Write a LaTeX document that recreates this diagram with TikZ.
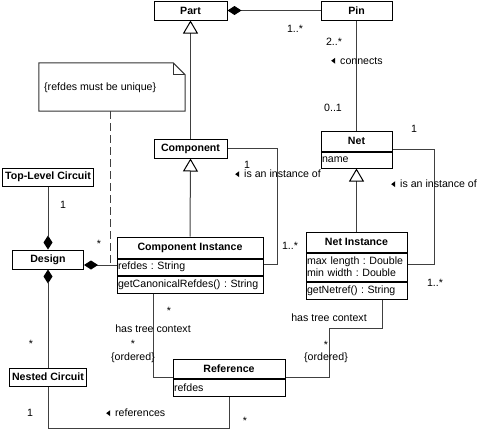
\documentclass[tikz,border=0pt]{standalone}
\usepackage{fontspec}
\setmainfont{Liberation Sans}
\usetikzlibrary{arrows.meta}
\newcommand\ltri{\tikz[baseline=-3.6pt]\fill[black] (0,0) -- (4pt,3pt) -- (4pt,-3pt) -- cycle;}
\tikzset{compo/.tip={Diamond[length=14pt, width=9pt, black]}}
\frenchspacing
\begin{document}
\frenchspacing
\begin{tikzpicture}[x=1pt,y=-1pt,
  every node/.style={font=\fontsize{10.6}{12}\selectfont, inner sep=0pt},
  hdr/.style={draw, line width=1pt, font=\fontsize{10.6}{12}\selectfont\bfseries},
  cmp/.style={draw, line width=1pt, anchor=north, align=left},
  conn/.style={line width=1pt, draw=black!75},
  gen/.style={conn, -{Triangle[open, length=13pt, width=15pt, line width=1pt, black]}},
  lbl/.style={font=\fontsize{10.6}{12}\selectfont}
]
\useasboundingbox (0,0) rectangle (480,431);

% classes
\node[hdr, minimum width=73pt, minimum height=19pt] (part) at (190.5,10.5) {Part};
\node[hdr, minimum width=71pt, minimum height=19pt] (pin) at (356.5,10.5) {Pin};
\node[hdr, minimum width=71pt, minimum height=20pt] (net) at (356.5,141) {Net};
\node[cmp, minimum height=16pt, text width=69pt, inner xsep=1pt] (net-a) at (net.south) {name};
\node[hdr, minimum width=73pt, minimum height=19pt] (comp) at (190.5,148.5) {Component};
\node[hdr, minimum width=91pt, minimum height=18pt] (tlc) at (48,177) {Top-Level Circuit};
\node[hdr, minimum width=71pt, minimum height=19pt] (design) at (48,259.5) {Design};
\node[hdr, minimum width=77pt, minimum height=18pt] (nested) at (48,377) {Nested Circuit};

\node[hdr, minimum width=146pt, minimum height=21pt] (ci) at (190,247.5) {Component Instance};
\node[cmp, minimum height=16pt, text width=144pt, inner xsep=1pt] (ci-a) at (ci.south) {refdes : String};
\node[cmp, minimum height=17pt, text width=144pt, inner xsep=1pt] (ci-o) at (ci-a.south) {getCanonicalRefdes() : String};

\node[hdr, minimum width=101pt, minimum height=20pt] (ni) at (356.5,242) {Net Instance};
\node[cmp, minimum height=28pt, text width=99pt, inner xsep=1pt] (ni-a) at (ni.south) {max length : Double\\min width : Double};
\node[cmp, minimum height=17pt, text width=99pt, inner xsep=1pt] (ni-o) at (ni-a.south) {getNetref() : String};

\node[hdr, minimum width=112pt, minimum height=19pt] (ref) at (229,368.5) {Reference};
\node[cmp, minimum height=17pt, text width=110pt, inner xsep=1pt] (ref-a) at (ref.south) {refdes};

% note
\node[minimum width=146pt, minimum height=48pt] (note) at (112,87) {};
\draw[line width=1pt, black!80] (note.north west) -- ([xshift=-12pt]note.north east) -- ([yshift=-12pt]note.north east) -- (note.south east) -- (note.south west) -- cycle;
\draw[line width=1pt, black!80] ([xshift=-12pt]note.north east) -- ([xshift=-12pt,yshift=-12pt]note.north east) -- ([yshift=-12pt]note.north east);
\node[anchor=west] (notetxt) at (44,88) {\{refdes must be unique\}};

% coordinates
\coordinate (d1) at ([yshift=-5.5pt]design.east);
\coordinate (c1) at (277,264);
\coordinate (c2) at (434,264);
\coordinate (t1) at (153,377);
\coordinate (t2) at (329,328);
\coordinate (t3) at (382,328);
\coordinate (r1) at (48,428);

% connectors
\draw[conn, {compo}-] (part.east) -- (pin.west);
\draw[conn] (pin.south) -- (net.north);
\draw[gen] (comp.north) -- (part.south);
\draw[gen] (ci.north) -- (comp.south);
\draw[gen] (ni.north) -- (net-a.south);
\draw[conn] (comp.east) -| (c1) -- (c1 -| ci.east);
\draw[conn] ([yshift=-8pt]net.east) -| (c2) -- (c2 -| ni.east);
\draw[conn, -{compo}] (tlc.south) -- (design.north);
\draw[conn, {compo}-] (design.south) -- (nested.north);
\draw[conn, {compo}-] (d1) -- (d1 -| ci-a.west);
\draw[conn, dash pattern=on 8pt off 4pt] ([xshift=-2pt]note.south) -- ([xshift=-2pt]note.south |- d1);
\draw[conn] (t1 |- ci-o.south) -- (t1) -- (t1 -| ref.west);
\draw[conn] (t1 -| ref.east) -| (t2) -- (t3) -- (t3 |- ni-o.south);
\draw[conn] (nested.south) -- (r1) -| (ref-a.south);

% labels
\node[lbl] (l1) at (295,29) {1..*};
\node[lbl] (l2) at (334,42) {2..*};
\node[lbl, anchor=west] (l3) at (331,61) {\ltri\hspace{5pt}connects};
\node[lbl] (l4) at (333,108) {0..1};
\node[lbl] (l5) at (414,129) {1};
\node[lbl] (l6) at (247,165) {1};
\node[lbl, anchor=west] (l7) at (235,174) {\ltri\hspace{5pt}is an instance of};
\node[lbl, anchor=west] (l8) at (391,184) {\ltri\hspace{5pt}is an instance of};
\node[lbl] (l9) at (290,246) {1..*};
\node[lbl] (l10) at (435,283) {1..*};
\node[lbl] (l11) at (63,205) {1};
\node[lbl] (l12) at (99,244) {*};
\node[lbl] (l13) at (31,344) {*};
\node[lbl] (l14) at (169,311) {*};
\node[lbl] (l15) at (153,329) {has tree context};
\node[lbl] (l16) at (133,344) {*};
\node[lbl] (l17) at (133,358) {\{ordered\}};
\node[lbl] (l18) at (329,318) {has tree context};
\node[lbl] (l19) at (326,345) {*};
\node[lbl] (l20) at (326,358) {\{ordered\}};
\node[lbl] (l21) at (30,413) {1};
\node[lbl, anchor=west] (l22) at (106,413) {\ltri\hspace{5pt}references};
\node[lbl] (l23) at (245,421) {*};
\end{tikzpicture}
\end{document}
